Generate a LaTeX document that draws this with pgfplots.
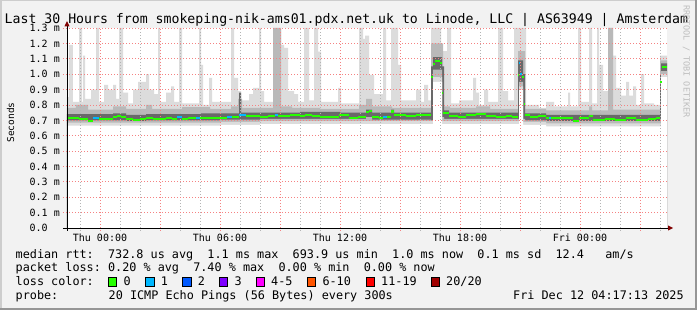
\documentclass[border=0pt]{standalone}
\usepackage{fontspec}
\setmainfont{DejaVu Sans Mono}
\usepackage{pgfplots}
\usepackage{pgfplotstable}
\pgfplotsset{compat=1.18}
\definecolor{bg}{RGB}{242,242,242}
\definecolor{shadeA}{RGB}{205,205,205}
\definecolor{shadeB}{RGB}{150,150,150}
\definecolor{smokeL}{RGB}{220,220,220}
\definecolor{smokeM}{RGB}{185,185,185}
\definecolor{smokeD}{RGB}{105,105,105}
\definecolor{medgreen}{RGB}{38,255,0}
\definecolor{lcA}{RGB}{0,184,255}
\definecolor{lcB}{RGB}{0,89,255}
\definecolor{lcC}{RGB}{126,0,255}
\definecolor{lcD}{RGB}{255,0,255}
\definecolor{lcE}{RGB}{255,85,0}
\definecolor{lcF}{RGB}{255,0,0}
\definecolor{lcG}{RGB}{161,0,0}
\definecolor{arrowred}{RGB}{128,0,0}
\definecolor{wmark}{RGB}{190,190,190}
\definecolor{majgrid}{RGB}{245,130,130}
\definecolor{mingrid}{RGB}{180,180,180}

% light smoke top
\pgfplotstableread{
x y
-1.65 0.85
-1.55 1.19
-1.35 0.82
-1.05 1.30
-0.90 0.82
-0.85 1.12
-0.75 0.84
-0.45 0.90
-0.20 1.30
-0.05 0.82
0.20 0.93
0.40 0.90
0.65 0.93
0.80 0.84
0.95 1.30
1.15 0.88
1.40 0.81
1.65 0.90
1.90 0.95
2.30 1.00
2.45 0.90
2.70 0.87
2.90 1.30
3.00 0.82
3.30 0.88
3.55 0.92
3.70 0.82
3.95 1.30
4.10 0.81
4.95 1.30
5.05 1.06
5.15 0.80
5.45 0.975
5.60 0.82
6.55 1.30
6.70 0.975
6.90 0.89
7.05 0.83
7.45 0.87
7.65 0.91
7.95 1.30
8.05 0.89
8.20 0.82
8.65 1.30
9.05 1.19
9.20 1.17
9.40 0.89
9.70 0.87
9.90 0.82
10.20 1.30
10.45 0.83
10.70 1.30
10.90 1.146
11.05 0.82
11.90 0.91
12.05 0.81
12.95 1.30
13.15 1.23
13.25 1.25
13.45 0.995
13.70 0.87
14.15 1.30
14.30 0.83
14.55 1.30
14.90 1.06
15.05 0.83
15.80 0.90
16.05 0.82
16.20 0.93
16.40 0.83
16.55 1.30
17.05 1.15
17.35 1.30
17.55 0.81
17.95 0.83
18.65 0.975
18.80 0.88
18.95 0.80
19.20 0.90
19.40 0.82
19.90 1.30
20.15 0.89
20.40 0.83
20.70 1.30
21.30 0.80
21.95 0.78
22.30 0.82
22.70 0.79
23.40 0.88
23.50 0.79
23.90 1.30
24.05 0.82
24.45 1.30
24.60 0.81
24.85 1.30
24.95 1.06
25.15 0.89
25.40 1.30
25.65 1.12
25.80 0.91
26.05 0.86
26.30 0.95
26.45 0.86
26.65 0.92
26.80 0.80
27.05 1.00
27.20 0.81
27.70 0.80
28.00 1.12
28.35 1.12
}\hiL

% mid smoke top
\pgfplotstableread{
x y
-1.65 0.78
-1.20 0.80
-0.60 0.77
0.65 0.79
1.30 0.775
2.30 0.80
2.60 0.775
4.10 0.785
5.50 0.775
6.55 0.79
6.90 0.84
7.10 0.78
8.65 1.30
9.05 0.79
9.60 0.78
11.00 0.775
12.95 0.80
13.30 0.84
13.60 0.79
14.60 0.78
16.55 1.20
17.15 0.79
17.50 0.78
18.80 0.79
19.50 0.775
20.90 1.15
21.25 0.775
22.30 0.765
24.45 0.79
24.60 0.765
25.40 1.30
25.65 0.77
28.00 1.09
28.35 1.09
}\hiM

% dark smoke top
\pgfplotstableread{
x y
-1.65 0.740
0.65 0.745
1.30 0.735
2.30 0.740
5.00 0.745
6.95 0.880
7.05 0.750
10.00 0.755
12.00 0.750
13.30 0.770
13.60 0.750
14.55 0.770
14.70 0.750
16.55 1.050
16.65 1.110
17.10 1.050
17.20 0.765
17.45 0.750
20.90 1.090
21.15 1.000
21.25 0.745
22.30 0.735
28.00 1.000
28.05 1.070
28.35 1.070
}\hiD

% dark smoke bottom
\pgfplotstableread{
x y
-1.65 0.700
1.30 0.695
2.30 0.700
6.00 0.705
8.00 0.710
13.30 0.720
13.60 0.705
16.55 0.700
16.65 1.030
17.10 0.720
17.20 0.710
20.90 0.710
20.95 0.950
21.15 0.710
21.25 0.700
22.30 0.695
28.00 0.710
28.05 1.020
28.35 1.020
}\loD

% mid smoke bottom
\pgfplotstableread{
x y
-1.65 0.685
6.00 0.690
8.00 0.695
16.65 0.980
17.10 0.695
20.95 0.920
21.15 0.690
22.30 0.680
28.05 1.000
28.35 1.000
}\loM

% light smoke bottom
\pgfplotstableread{
x y
-1.65 0.665
6.00 0.670
8.00 0.675
16.65 0.950
17.10 0.675
20.95 0.900
21.15 0.670
22.30 0.660
28.05 0.980
28.35 0.980
}\loL

% median rtt (ms)
\pgfplotstableread{
x y
-1.65 0.713
-1.05 0.706
-0.60 0.698
-0.35 0.713
-0.05 0.706
0.65 0.724
0.85 0.730
1.05 0.724
1.30 0.706
1.65 0.702
2.00 0.709
2.30 0.717
2.65 0.706
3.30 0.713
3.60 0.709
3.85 0.720
4.10 0.706
4.40 0.713
4.80 0.717
5.00 0.713
5.50 0.717
6.00 0.713
6.35 0.720
6.60 0.724
6.95 0.737
7.30 0.728
7.65 0.730
8.00 0.724
8.40 0.730
8.75 0.737
8.90 0.730
9.50 0.734
10.00 0.728
10.25 0.737
10.60 0.730
11.00 0.720
11.40 0.724
11.95 0.737
12.45 0.717
12.90 0.720
13.30 0.752
13.45 0.760
13.60 0.724
13.95 0.717
14.15 0.720
14.35 0.720
14.55 0.757
14.70 0.737
15.30 0.730
15.80 0.734
16.30 0.734
16.55 0.983
16.65 1.064
16.75 1.085
17.00 1.070
17.10 0.880
17.15 0.750
17.25 0.745
17.45 0.730
17.90 0.724
18.30 0.737
18.80 0.740
19.30 0.730
19.80 0.724
20.30 0.730
20.60 0.724
20.90 0.994
20.95 1.070
21.00 1.000
21.10 0.983
21.20 0.806
21.25 0.734
21.50 0.724
21.90 0.728
22.30 0.717
22.55 0.713
23.00 0.717
23.65 0.698
23.95 0.713
24.45 0.730
24.65 0.702
25.25 0.709
25.75 0.702
26.30 0.717
26.80 0.702
27.40 0.709
27.80 0.717
28.00 0.951
28.10 1.045
28.35 1.045
}\med

\begin{document}
\frenchspacing
\begin{tikzpicture}[x=1pt,y=1pt]
\fill[bg] (0,0) rectangle (697,310);
\useasboundingbox (0,0) rectangle (697,310);
\fill[shadeA] (0,0) rectangle (1.5,310);
\fill[shadeA] (0,308.5) rectangle (697,310);
\fill[shadeB] (695,0) rectangle (697,310);
\fill[shadeB] (0,0) rectangle (697,2);

\begin{axis}[
  at={(67pt,82pt)}, anchor=south west,
  scale only axis, width=600pt, height=200pt,
  xmin=-1.65, xmax=28.35, ymin=0, ymax=1.3,
  clip=false,
  axis line style={draw=none},
  axis background/.style={fill=white},
  major tick length=0pt,
  xtick={0,6,12,18,24},
  xticklabels={Thu 00:00,Thu 06:00,Thu 12:00,Thu 18:00,Fri 00:00},
  ytick={0,0.1,0.2,0.3,0.4,0.5,0.6,0.7,0.8,0.9,1.0,1.1,1.2,1.3},
  yticklabels={0.0\phantom{xx},0.1 m,0.2 m,0.3 m,0.4 m,0.5 m,0.6 m,0.7 m,0.8 m,0.9 m,1.0 m,1.1 m,1.2 m,1.3 m},
  xticklabel style={font=\fontsize{10}{12}\selectfont, anchor=base, inner sep=0pt, yshift=-13.7pt},
  yticklabel style={font=\fontsize{10}{12}\selectfont, anchor=base east, inner sep=0pt, xshift=-7pt, yshift=-3.7pt},
]
% smoke layers
\addplot[const plot, fill=smokeL, draw=none] table[x=x,y=y]{\hiL} \closedcycle;
\addplot[const plot, fill=smokeM, draw=none] table[x=x,y=y]{\hiM} \closedcycle;
\addplot[const plot, fill=smokeD, draw=none] table[x=x,y=y]{\hiD} \closedcycle;
\addplot[const plot, fill=smokeM, draw=none] table[x=x,y=y]{\loD} \closedcycle;
\addplot[const plot, fill=smokeL, draw=none] table[x=x,y=y]{\loM} \closedcycle;
\addplot[const plot, fill=white, draw=none] table[x=x,y=y]{\loL} \closedcycle;

% grid
\pgfplotsinvokeforeach{-1,1,2,4,5,7,8,10,11,13,14,16,17,19,20,22,23,25,26,28}{
  \draw[mingrid, line width=0.7pt, dash pattern=on 1pt off 2pt] ([yshift=-3pt]axis cs:#1,0) -- (axis cs:#1,1.3);
}
\pgfplotsinvokeforeach{0,3,6,9,12,15,18,21,24,27}{
  \draw[majgrid, line width=0.7pt, dash pattern=on 1pt off 2pt] ([yshift=-3pt]axis cs:#1,0) -- (axis cs:#1,1.3);
}
\pgfplotsinvokeforeach{0.1,0.2,0.3,0.4,0.5,0.6,0.7,0.8,0.9,1.0,1.1,1.2,1.3}{
  \draw[majgrid, line width=0.7pt, dash pattern=on 1pt off 2pt] ([xshift=-4pt]axis cs:-1.65,#1) -- (axis cs:28.35,#1);
}

% median
\addplot[jump mark left, medgreen, line width=2.2pt] table[x=x,y=y]{\med};
\addplot[jump mark left, lcA, line width=2.2pt] coordinates {(-0.35,0.713) (-0.05,0.713)};
\addplot[jump mark left, lcA, line width=2.2pt] coordinates {(3.85,0.720) (4.10,0.720)};
\addplot[jump mark left, lcA, line width=2.2pt] coordinates {(4.80,0.717) (5.00,0.717)};
\addplot[jump mark left, lcA, line width=2.2pt] coordinates {(6.35,0.720) (6.60,0.720)};
\addplot[jump mark left, lcA, line width=2.2pt] coordinates {(6.95,0.737) (7.30,0.737)};
\addplot[jump mark left, lcA, line width=2.2pt] coordinates {(8.75,0.737) (8.90,0.737)};
\addplot[jump mark left, lcA, line width=2.2pt] coordinates {(14.15,0.720) (14.35,0.720)};
\addplot[jump mark left, lcA, line width=2.2pt] coordinates {(20.95,1.070) (21.00,1.070)};
\addplot[jump mark left, lcA, line width=2.2pt] coordinates {(21.00,1.000) (21.10,1.000)};
\addplot[jump mark left, lcA, line width=2.2pt] coordinates {(22.45,0.713) (22.55,0.713)};

% axes lines and arrows
\draw[black, line width=0.9pt] ([xshift=-4pt]axis cs:-1.65,0) -- ([xshift=1pt]axis cs:28.35,0);
\draw[black, line width=0.9pt] ([yshift=-3pt]axis cs:-1.65,0) -- ([yshift=2pt]axis cs:-1.65,1.3);
\fill[arrowred] ([xshift=1pt,yshift=2.6pt]axis cs:28.35,0) -- ([xshift=6pt]axis cs:28.35,0) -- ([xshift=1pt,yshift=-2.6pt]axis cs:28.35,0) -- cycle;
\fill[arrowred] ([xshift=-2.6pt,yshift=1.5pt]axis cs:-1.65,1.3) -- ([yshift=7pt]axis cs:-1.65,1.3) -- ([xshift=2.6pt,yshift=1.5pt]axis cs:-1.65,1.3) -- cycle;
\end{axis}

% title
\node[anchor=base west, inner sep=0pt, font=\fontsize{13.2}{15}\selectfont] at (4.5,286) {Last 30 Hours from smokeping-nik-ams01.pdx.net.uk to Linode, LLC | AS63949 | Amsterdam};
% y label
\node[rotate=90, inner sep=0pt, font=\fontsize{9.5}{11}\selectfont] at (10.5,187.5) {Seconds};
% watermark
\node[rotate=-90, anchor=base west, inner sep=0pt, font=\fontsize{8.5}{10}\selectfont, text=wmark] at (683.5,305) {RRDTOOL / TOBI OETIKER};

% legend
\begin{scope}[every node/.style={anchor=base west, inner sep=0pt, font=\fontsize{11.8}{14}\selectfont}]
\node at (15.5,51.7) {median rtt:~~732.8 us avg~~1.1 ms max~~693.9 us min~~1.0 ms now~~0.1 ms sd~~12.4~~~am/s};
\node at (15.5,38.0) {packet loss: 0.20 \% avg~~7.40 \% max~~0.00 \% min~~0.00 \% now};
\node at (15.5,24.3) {loss color:};
\node at (15.5,10.6) {probe:};
\node at (108.5,10.6) {20 ICMP Echo Pings (56 Bytes) every 300s};
\node at (513,10.6) {Fri Dec 12 04:17:13 2025};
\foreach \bx/\lab/\col in {108.3/0/medgreen, 145.7/1/lcA, 182.7/2/lcB, 219.3/3/lcC, 256/4-5/lcD, 307.3/6-10/lcE, 366/11-19/lcF, 431/20\slash 20/lcG}{
  \filldraw[fill=\col, draw=black, line width=0.8pt] (\bx,24) rectangle ++(8.3,8.3);
  \node at (\bx+15,24.3) {\lab};
}
\end{scope}
\end{tikzpicture}
\end{document}
